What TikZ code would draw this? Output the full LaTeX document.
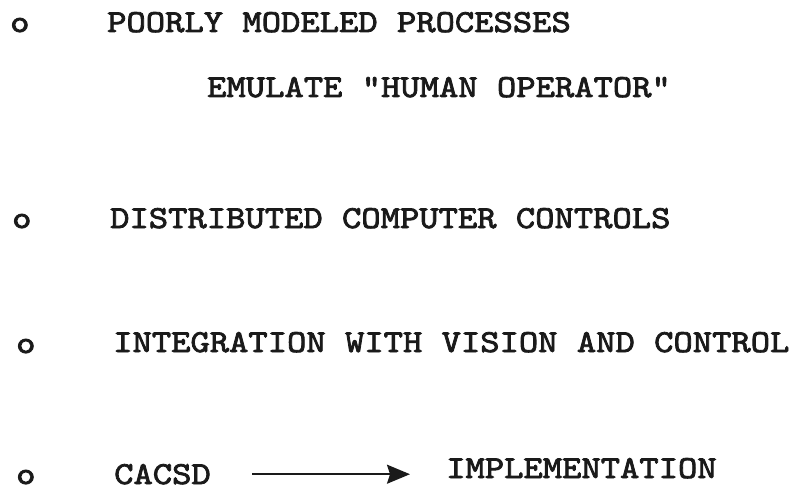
\documentclass[tikz,border=0pt]{standalone}
\usepackage{fontspec}
\newfontfamily\typewriter{lmmono10-regular.otf}[FakeStretch=1.15,FakeBold=2.5]
\usetikzlibrary{arrows.meta}
\definecolor{ink}{HTML}{1A1A1A}
\begin{document}
\begin{tikzpicture}[x=1pt,y=-1pt,
  typed/.style={font=\typewriter\fontsize{32}{38}\selectfont, text=ink,
                inner sep=0pt, anchor=base west},
  pointer/.style={draw=ink, line width=1.7pt,
                  -{Stealth[length=23pt,width=19pt,inset=3pt]}}]
  \useasboundingbox (0,0) rectangle (795,492);

  % first point and its sub-line
  \node[typed] (b1) at (10,32) {o};
  \node[typed] (t1) at (107,32) {POORLY MODELED PROCESSES};
  \node[typed] (t1s) at (207,97) {EMULATE "HUMAN OPERATOR"};

  % second point
  \node[typed] (b2) at (12,228) {o};
  \node[typed] (t2) at (110,228) {DISTRIBUTED COMPUTER CONTROLS};

  % third point
  \node[typed] (b3) at (16,353) {o};
  \node[typed] (t3) at (113,352) {INTEGRATION WITH VISION AND CONTROL};

  % fourth point with the arrow
  \node[typed] (b4) at (16,484) {o};
  \node[typed] (t4a) at (114,484) {CACSD};
  \node[typed] (t4b) at (446,478) {IMPLEMENTATION};
  \draw[pointer, shorten <=41pt, shorten >=36pt]
    (t4a.east) -- (t4a.east -| t4b.west);
\end{tikzpicture}
\end{document}
